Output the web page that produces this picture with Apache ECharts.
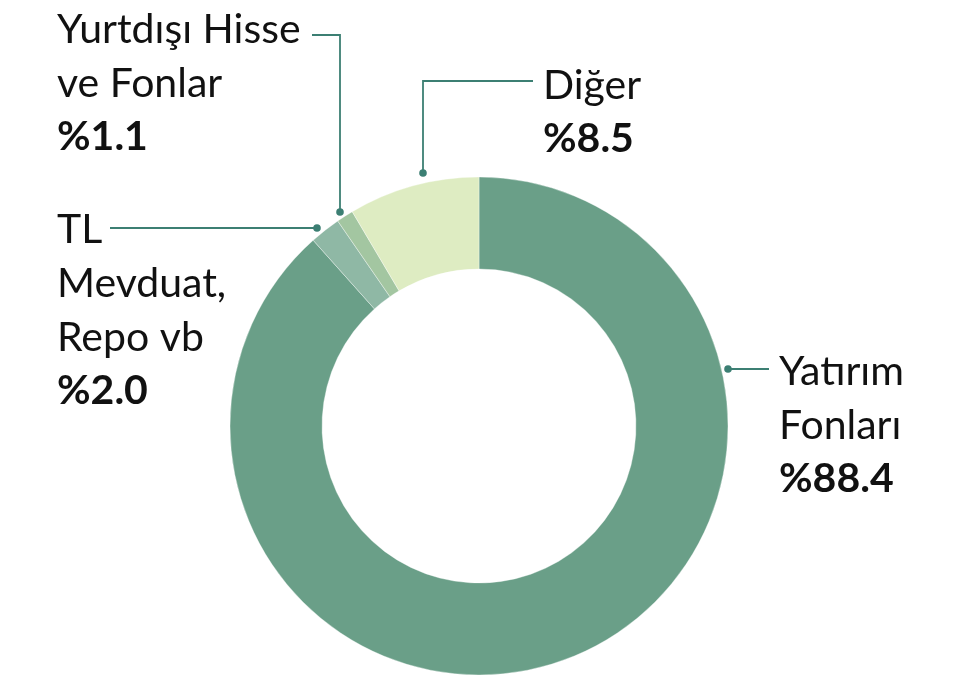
<!DOCTYPE html>
<html>
<head>
<meta charset="utf-8">
<script src="https://cdn.jsdelivr.net/npm/echarts@6/dist/echarts.min.js"></script>
<style>
html,body{margin:0;padding:0;background:#fff;}
#c{width:969px;height:675px;}
</style>
</head>
<body>
<div id="c"></div>
<script>
var categories = ['Yatırım\nFonları', 'TL\nMevduat,\nRepo vb', 'Yurtdışı Hisse\nve Fonlar', 'Diğer'];
var values = [88.4, 2.0, 1.1, 8.5];
var colors = ['#6a9f88', '#8fb8a5', '#a3c6a1', '#deecc2'];

var lineColor = '#3c7f73';
// label text anchor (left, top) and leader line polyline per slice (last point = dot)
var labelPos = [
  {x: 779, y: 345, line: [[769, 369], [748, 369], [728, 369]]},
  {x: 57, y: 203, line: [[110, 228], [210, 228], [317, 228]]},
  {x: 57, y: 3, line: [[312, 35], [340, 35], [340, 212]]},
  {x: 543, y: 59, line: [[533, 81], [423, 81], [423, 173]]}
];

var chart = echarts.init(document.getElementById('c'));
var data = categories.map(function (c, i) {
  return {name: c, value: values[i], itemStyle: {color: colors[i]}};
});

var option = {
  animation: false,
  series: [{
    type: 'pie',
    center: [479, 426],
    radius: [157, 249],
    startAngle: 90,
    clockwise: true,
    avoidLabelOverlap: false,
    data: data,
    itemStyle: {borderColor: 'rgba(255,255,255,0.6)', borderWidth: 0.6},
    label: {
      show: true,
      position: 'outside',
      formatter: function (p) {
        return '{n|' + p.name.split('\n').join('}\n{n|') + '}\n{v|%' + p.value.toFixed(1) + '}';
      },
      rich: {
        n: {fontFamily: 'Lato', fontSize: 41, lineHeight: 54, color: '#111'},
        v: {fontFamily: 'Lato', fontSize: 41, fontWeight: 'bold', lineHeight: 52, color: '#111'}
      }
    },
    labelLine: {show: true, lineStyle: {color: lineColor, width: 1.8}},
    emphasis: {disabled: true}
  }],
  graphic: labelPos.map(function (p) {
    var end = p.line[2];
    return {type: 'circle', shape: {cx: end[0], cy: end[1], r: 3.8}, style: {fill: lineColor}, z: 100};
  })
};
option.series[0].labelLayout = function (params) {
  var p = labelPos[params.dataIndex];
  return {x: p.x, y: p.y, align: 'left', verticalAlign: 'top', labelLinePoints: p.line};
};
chart.setOption(option);
</script>
</body>
</html>
